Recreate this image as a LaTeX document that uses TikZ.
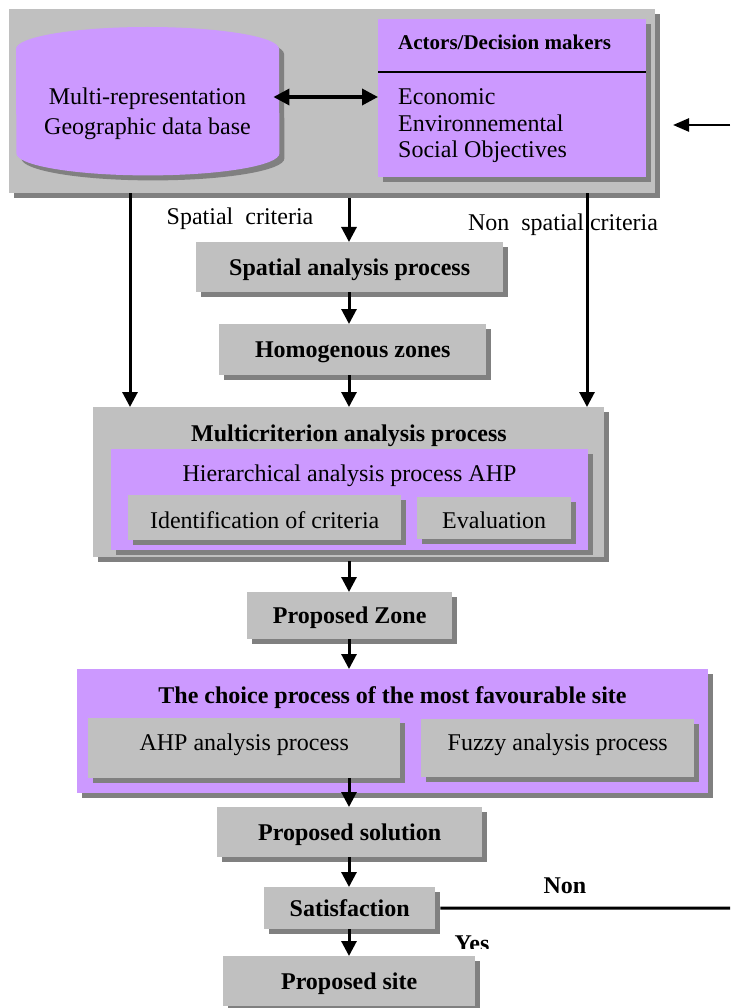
\documentclass[tikz,border=0pt]{standalone}
\usepackage{fontspec}
\setmainfont{Liberation Serif}
\usetikzlibrary{arrows.meta,shadows,calc}
\definecolor{gr}{HTML}{C0C0C0}
\definecolor{shd}{HTML}{808080}
\definecolor{pu}{HTML}{CC99FF}
\newcommand\fs{\fontsize{24pt}{29pt}\selectfont}
\begin{document}
\begin{tikzpicture}[x=1pt,y=1pt,
  box/.style={rectangle, inner sep=0pt, anchor=north west, text height=16pt, text depth=0pt, font=\fs,
    general shadow={fill=shd, shadow xshift=5pt, shadow yshift=-5pt}},
  gbox/.style={box, fill=gr},
  pbox/.style={box, fill=pu},
  tbold/.style={font=\fs\bfseries},
  lab/.style={inner sep=0pt, text height=16pt, text depth=0pt, font=\fs},
  arr/.style={line width=3pt, -{Triangle[length=15pt,width=15pt]}},
]
\useasboundingbox (0,0) rectangle (730,-1008);

% ---------- top group ----------
\node[gbox, minimum width=646pt, minimum height=184pt] (top) at (9,-9) {};
\node[rectangle, inner sep=0pt, anchor=north west, minimum width=263pt, minimum height=148pt] (db) at (16,-27) {};
\fill[shd, transform canvas={shift={(5pt,-5pt)}}] ($(db.north west)+(0,-22)$) arc[start angle=180, end angle=0, x radius=131.5, y radius=22]
  -- ($(db.south east)+(0,22)$) arc[start angle=0, end angle=-180, x radius=131.5, y radius=22] -- cycle;
\fill[pu] ($(db.north west)+(0,-22)$) arc[start angle=180, end angle=0, x radius=131.5, y radius=22]
  -- ($(db.south east)+(0,22)$) arc[start angle=0, end angle=-180, x radius=131.5, y radius=22] -- cycle;
\node[lab] (db1) at (147.5,-97) {Multi-representation};
\node[lab] (db2) at (147.5,-127) {Geographic data base};

\node[pbox, minimum width=268pt, minimum height=158pt] (act) at (378,-19) {};
\node[lab, anchor=west, text height=14pt, font=\fontsize{21pt}{25pt}\selectfont\bfseries] (actt) at (398,-43) {Actors/Decision makers};
\coordinate (sepy) at (0,-72);
\draw[line width=1.5pt] (act.west |- sepy) -- (act.east |- sepy);
\node[lab, anchor=west] (eco) at (398,-97) {Economic};
\node[lab, anchor=west] (env) at (398,-124) {Environnemental};
\node[lab, anchor=west, text depth=0pt] (soc) at (398,-150) {Social Objectives};

\draw[line width=3.5pt, {Triangle[length=16pt,width=16pt]}-{Triangle[length=16pt,width=16pt]}]
  ($(db.east |- eco.west)+(-6,0)$) -- (act.west |- eco.west);

\coordinate (fbin) at (730,-125);
\coordinate (fbtip) at (673,-125);
\draw[line width=2.5pt, -{Triangle[length=16pt,width=13pt]}] (fbin) -- (fbtip);

% ---------- criteria labels ----------
\node[lab] (lsc) at (240,-217) {Spatial~ criteria};
\node[lab] (lnsc) at (563,-223) {Non~ spatial criteria};

% ---------- middle column ----------
\node[gbox, tbold, minimum width=307pt, minimum height=50pt] (spa) at (196,-242) {Spatial analysis process};
\node[gbox, tbold, minimum width=267pt, minimum height=51pt] (hom) at (219,-324) {Homogenous zones};

\node[gbox, minimum width=511pt, minimum height=150pt] (mc) at (93,-407) {};
\node[lab, tbold] (mct) at (349,-433) {Multicriterion analysis process};
\node[pbox, minimum width=477pt, minimum height=101pt] (ahpp) at (111,-449) {};
\node[lab] (ahpt) at (349.5,-473) {Hierarchical analysis process AHP};
\node[gbox, text height=21pt, minimum width=273pt, minimum height=45pt] (idc) at (128,-495) {Identification of criteria};
\node[gbox, text height=21pt, minimum width=154pt, minimum height=42pt] (eva) at (417,-497) {Evaluation};

\node[gbox, tbold, minimum width=205pt, minimum height=47pt] (pz) at (247,-592) {Proposed Zone};

\node[pbox, minimum width=631pt, minimum height=124pt] (ch) at (77,-669) {};
\node[lab, tbold] (cht) at (392.5,-695) {The choice process of the most favourable site};
\node[gbox, text depth=12pt, minimum width=312pt, minimum height=60pt] (ahpa) at (88,-718) {AHP analysis process};
\node[gbox, text depth=12pt, minimum width=273pt, minimum height=58pt] (fuz) at (421,-719) {Fuzzy analysis process};

\node[gbox, tbold, minimum width=265pt, minimum height=50pt] (sol) at (217,-807) {Proposed solution};
\node[gbox, tbold, minimum width=171pt, minimum height=42pt] (sat) at (264,-887) {Satisfaction};
\node[gbox, tbold, minimum width=252pt, minimum height=50pt] (site) at (223,-956) {Proposed site};

% ---------- connectors ----------
\coordinate (cx) at (349,0);
\coordinate (L) at (130,0);
\coordinate (R) at (587,0);
\draw[arr] (L |- top.south) -- (L |- mc.north);
\draw[arr] ($(cx |- top.south)+(0,-5)$) -- (cx |- spa.north);
\draw[line width=3pt] (R |- top.south) -- (R |- lnsc.north);
\draw[arr] (R |- lnsc.north) -- (R |- mc.north);
\draw[arr] (cx |- spa.south) -- (cx |- hom.north);
\draw[arr] (cx |- hom.south) -- (cx |- mc.north);
\draw[arr] ($(cx |- mc.south)+(0,-4)$) -- (cx |- pz.north);
\draw[arr] (cx |- pz.south) -- (cx |- ch.north);
\draw[arr] (cx |- ahpa.south) -- (cx |- sol.north);
\draw[arr] (cx |- sol.south) -- (cx |- sat.north);
\draw[arr] (cx |- sat.south) -- (cx |- site.north);

\coordinate (nonend) at (730,-908);
\draw[line width=3pt, shorten <=5pt] (sat.east) -- (nonend);
\node[lab, tbold] (non) at (565,-885) {Non};
\begin{scope}
  \clip (420,-920) rectangle (560,-948);
  \node[lab, tbold] (yes) at (472,-943) {Yes};
\end{scope}
\end{tikzpicture}
\end{document}
